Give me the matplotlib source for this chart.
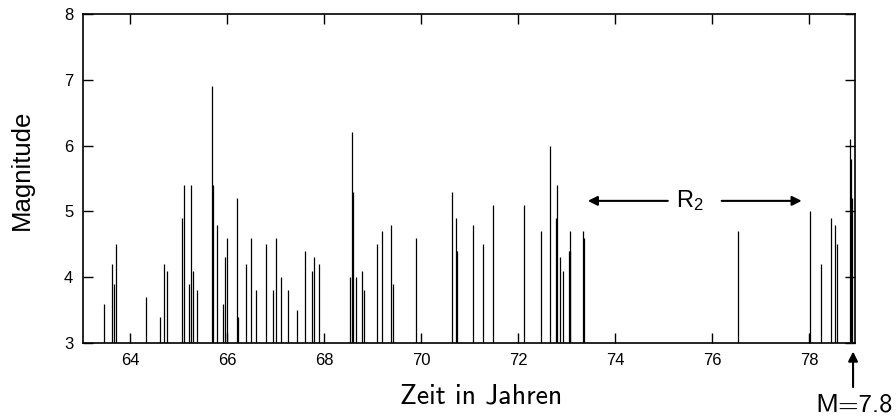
import matplotlib
matplotlib.use("Agg")
import matplotlib.pyplot as plt

# Event times (years, 19xx) and magnitudes
times = [63.46, 63.62, 63.66, 63.72, 64.32, 64.61, 64.71, 64.76, 65.07, 65.11,
         65.21, 65.26, 65.30, 65.39, 65.68, 65.71, 65.80, 65.91, 65.95, 66.00,
         66.21, 66.22, 66.39, 66.49, 66.60, 66.80, 66.95, 67.00, 67.11, 67.25,
         67.45, 67.60, 67.75, 67.80, 67.90, 68.54, 68.57, 68.60, 68.65, 68.79,
         68.82, 69.09, 69.19, 69.39, 69.43, 69.89, 70.63, 70.72, 70.74, 71.08,
         71.28, 71.48, 72.12, 72.47, 72.67, 72.78, 72.80, 72.87, 72.92, 73.05,
         73.07, 73.08, 73.35, 73.36, 76.54, 78.03, 78.25, 78.45, 78.54, 78.58,
         78.84, 78.86, 78.89]
mags = [3.6, 4.2, 3.9, 4.5, 3.7, 3.4, 4.2, 4.1, 4.9, 5.4,
        3.9, 5.4, 4.1, 3.8, 6.9, 5.4, 4.8, 3.6, 4.3, 4.6,
        5.2, 3.4, 4.2, 4.6, 3.8, 4.5, 3.8, 4.6, 4.0, 3.8,
        3.5, 4.4, 4.1, 4.3, 4.2, 4.0, 6.2, 5.3, 4.0, 4.1,
        3.8, 4.5, 4.7, 4.8, 3.9, 4.6, 5.3, 4.9, 4.4, 4.8,
        4.5, 5.1, 5.1, 4.7, 6.0, 4.9, 5.4, 4.3, 4.1, 4.4,
        4.4, 4.7, 4.7, 4.6, 4.7, 5.0, 4.2, 4.9, 4.8, 4.5,
        6.1, 5.8, 5.2]

xticks = [64, 66, 68, 70, 72, 74, 76, 78]
yticks = [3, 4, 5, 6, 7, 8]

plt.rcParams['mathtext.fontset'] = 'custom'
plt.rcParams['mathtext.rm'] = 'Liberation Sans'
plt.rcParams['mathtext.it'] = 'Liberation Sans'

fig = plt.figure(figsize=(8.96, 4.18), dpi=100)
ax = fig.add_axes([83/896, 1 - 343/418, (855-83)/896, (343-14)/418])

ax.vlines(times, 3, mags, color='black', lw=0.9)

ax.set_xlim(63.03, 78.95)
ax.set_ylim(3, 8)
ax.set_xticks(xticks)
ax.set_yticks(yticks)
ax.tick_params(direction='in', length=7, width=1, top=True, right=True,
               labelsize=12, pad=7)
for lab in ax.get_xticklabels() + ax.get_yticklabels():
    lab.set_family('Liberation Sans')
for s in ax.spines.values():
    s.set_linewidth(1.2)

# R2 annotation
ax.annotate('', xy=(73.44, 5.16), xytext=(75.09, 5.16),
            arrowprops=dict(arrowstyle='-|>', color='black', lw=1.5,
                            mutation_scale=14, shrinkA=0, shrinkB=0))
ax.annotate('', xy=(77.85, 5.16), xytext=(76.2, 5.16),
            arrowprops=dict(arrowstyle='-|>', color='black', lw=1.5,
                            mutation_scale=14, shrinkA=0, shrinkB=0))
ax.text(75.55, 5.16, r'R$_{2}$', fontsize=17, family='Liberation Sans',
        ha='center', va='center')

# M=7.8 arrow below axis
ax.annotate('', xy=(78.91, 2.87), xytext=(78.91, 2.33),
            arrowprops=dict(arrowstyle='-|>', color='black', lw=1.5,
                            mutation_scale=14, shrinkA=0, shrinkB=0),
            annotation_clip=False)
fig.text(854/896, (418-411.5)/418, 'M=7.8', fontsize=19,
         family=['cmss10', 'DejaVu Sans'], ha='center', va='baseline')

fig.text(481/896, (418-403)/418, 'Zeit in Jahren', fontsize=20,
         family=['cmss10', 'DejaVu Sans'], ha='center', va='baseline')
fig.text(22/896, (418-170)/418, 'Magnitude', fontsize=18.5,
         family='Liberation Sans', rotation=90, ha='center', va='center')

fig.savefig('out.png', dpi=100)
